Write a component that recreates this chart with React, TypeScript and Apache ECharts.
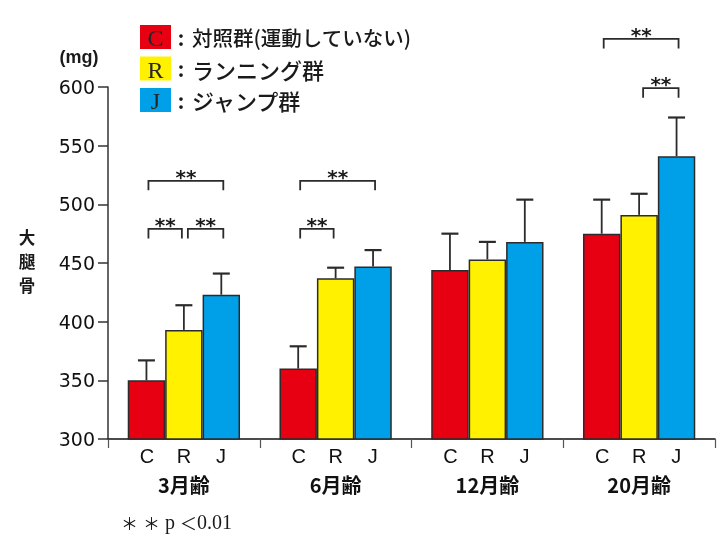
import React, { useEffect, useRef } from "react";
import * as echarts from "echarts";

const categories = ["3月齢", "6月齢", "12月齢", "20月齢"];
const groupNames = ["C", "R", "J"];
const groupColors = ["#E60012", "#FFF100", "#00A0E9"];
const meanC = [350, 360, 444, 475];
const meanR = [393, 437, 453, 491];
const meanJ = [423, 447, 468, 541];
const upperC = [367, 379, 475, 504];
const upperR = [414, 446, 468, 509];
const upperJ = [441, 461, 504, 574];
// [category index, from bar, to bar, bracket height (mg)]
const brackets = [
  [0, 0, 2, 520],
  [0, 0, 1, 479],
  [0, 1, 2, 479],
  [1, 0, 2, 520],
  [1, 0, 1, 479],
  [3, 0, 2, 641],
  [3, 1, 2, 599],
];
const legendLabels = ["対照群(運動していない)", "ランニング群", "ジャンプ群"];
const yAxisTitle = ["大", "腿", "骨"];
const yMin = 300;
const yMax = 600;
const yStep = 50;

const BAR_FRACTION = 0.74;
const INK = "#2b2b2b";

export default function App() {
  const ref = useRef<HTMLDivElement>(null);
  useEffect(() => {
    if (!ref.current) return;
    const chart = echarts.init(ref.current, null, { renderer: "svg" });
    const means = [meanC, meanR, meanJ];
    const uppers = [upperC, upperR, upperJ];
    const errData: number[][] = [];
    means.forEach((m, s) =>
      m.forEach((v, i) => errData.push([i, s, v, uppers[s][i]]))
    );

    const barSeries = groupNames.map((name, s) => ({
      name,
      type: "bar",
      data: means[s],
      barGap: "0%",
      barCategoryGap: "26%",
      itemStyle: { color: groupColors[s], borderColor: INK, borderWidth: 1.5 },
      z: 2,
    }));

    const legendGraphics: any[] = [];
    groupNames.forEach((g, i) => {
      const y = 25 + i * 31.5;
      legendGraphics.push({
        type: "rect",
        shape: { x: 140, y, width: 31, height: 24 },
        style: { fill: groupColors[i] },
      });
      legendGraphics.push({
        type: "text",
        x: 155.5,
        y: y + 13,
        style: {
          text: g,
          fill: "#262626",
          font: "24px 'Liberation Serif', serif",
          align: "center",
          verticalAlign: "middle",
        },
      });
      legendGraphics.push({
        type: "text",
        x: 181,
        y: y + 12,
        style: {
          text: ":",
          fill: "#1a1a1a",
          font: "bold 20px 'Noto Sans CJK JP', sans-serif",
          align: "center",
          verticalAlign: "middle",
        },
      });
      legendGraphics.push({
        type: "text",
        x: 192,
        y: y + 12,
        style: {
          text: legendLabels[i],
          fill: "#1a1a1a",
          font: (i === 0 ? "500 20.5px" : "500 22px") + " 'Noto Sans CJK JP', sans-serif",
          align: "left",
          verticalAlign: "middle",
        },
      });
    });

    const titleGraphics = yAxisTitle.map((ch, i) => ({
      type: "text",
      x: 27,
      y: 237 + i * 24,
      style: {
        text: ch,
        fill: "#1a1a1a",
        font: "bold 16.5px 'Noto Sans CJK JP', sans-serif",
        align: "center",
        verticalAlign: "middle",
      },
    }));

    chart.setOption({
      animation: false,
      grid: { left: 108, right: 10, top: 87, bottom: 102, containLabel: false },
      xAxis: {
        type: "category",
        data: categories,
        axisLine: { lineStyle: { color: "#111", width: 1.5 } },
        axisTick: { show: true, alignWithLabel: false, length: 9, lineStyle: { color: "#555", width: 1.2 }, interval: 0 },
        axisLabel: {
          interval: 0,
          margin: 3,
          formatter: (v: string) =>
            groupNames.map((g) => `{s|${g}}`).join("") + `\n{g|${v}}`,
          rich: {
            s: {
              width: 37,
              align: "center",
              lineHeight: 28,
              fontSize: 20,
              fontFamily: "'Liberation Sans', Arial, sans-serif",
              color: "#111",
            },
            g: {
              align: "center",
              lineHeight: 28,
              fontSize: 20,
              fontWeight: "bold",
              fontFamily: "'Noto Sans CJK JP', sans-serif",
              color: "#111",
            },
          },
        },
        splitLine: { show: false },
      },
      yAxis: {
        type: "value",
        min: yMin,
        max: yMax,
        interval: yStep,
        axisLine: { show: true, lineStyle: { color: "#333", width: 1.5 } },
        axisTick: { show: true, inside: false, length: 10, lineStyle: { color: "#333", width: 1.5 } },
        axisLabel: {
          margin: 13,
          fontSize: 19,
          fontFamily: "'DejaVu Sans', sans-serif",
          color: "#111",
        },
        splitLine: { show: false },
      },
      series: [
        ...barSeries,
        {
          type: "custom",
          name: "err",
          data: errData,
          encode: { x: 0, y: [2, 3] },
          z: 3,
          clip: false,
          renderItem: (params: any, api: any) => {
            const cat = api.value(0);
            const s = api.value(1);
            const base = api.coord([cat, api.value(2)]);
            const top = api.coord([cat, api.value(3)]);
            const band = api.size([1, 0])[0];
            const bw = (band * BAR_FRACTION) / 3;
            const x = base[0] + (s - 1) * bw;
            return {
              type: "group",
              children: [
                { type: "line", shape: { x1: x, y1: base[1], x2: x, y2: top[1] }, style: { stroke: INK, lineWidth: 1.8 } },
                { type: "line", shape: { x1: x - 8.5, y1: top[1], x2: x + 8.5, y2: top[1] }, style: { stroke: INK, lineWidth: 2.2 } },
              ],
            };
          },
        },
        {
          type: "custom",
          name: "sig",
          data: brackets,
          encode: { x: 0, y: 3 },
          z: 4,
          clip: false,
          renderItem: (params: any, api: any) => {
            const cat = api.value(0);
            const from = api.value(1);
            const to = api.value(2);
            const p = api.coord([cat, api.value(3)]);
            const band = api.size([1, 0])[0];
            const bw = (band * BAR_FRACTION) / 3;
            const x1 = p[0] + (from - 1) * bw + (from === 0 ? 2 : 4);
            const x2 = p[0] + (to - 1) * bw + (to === 2 ? 2 : -2);
            const y = p[1];
            return {
              type: "group",
              children: [
                {
                  type: "polyline",
                  shape: { points: [[x1, y + 9.5], [x1, y], [x2, y], [x2, y + 9.5]] },
                  style: { stroke: INK, lineWidth: 1.8, fill: "none" },
                },
                {
                  type: "text",
                  x: (x1 + x2) / 2,
                  y: y - 4,
                  style: {
                    text: "**",
                    fill: "#1a1a1a",
                    font: "bold 20px 'DejaVu Sans', sans-serif",
                    align: "center",
                    verticalAlign: "middle",
                  },
                },
              ],
            };
          },
        },
      ],
      graphic: [
        ...legendGraphics,
        ...titleGraphics,
        {
          type: "text",
          x: 79,
          y: 57,
          style: {
            text: "(mg)",
            fill: "#1a1a1a",
            font: "bold 18px 'Liberation Sans', sans-serif",
            align: "center",
            verticalAlign: "middle",
          },
        },
        {
          type: "text",
          x: 121,
          y: 522,
          style: {
            text: "{a|＊}{b| }{a|＊}{b| p }{a|＜}{b|0.01}",
            align: "left",
            verticalAlign: "middle",
            rich: {
              a: { fontFamily: "'Noto Sans CJK JP', sans-serif", fontSize: 17, fill: "#1a1a1a" },
              b: { fontFamily: "'Liberation Serif', serif", fontSize: 20, fill: "#1a1a1a" },
            },
          },
        },
      ],
    });
    return () => chart.dispose();
  }, []);
  return (
    <div
      ref={ref}
      style={{ position: "fixed", left: 0, top: 0, width: 725, height: 541 }}
    />
  );
}
